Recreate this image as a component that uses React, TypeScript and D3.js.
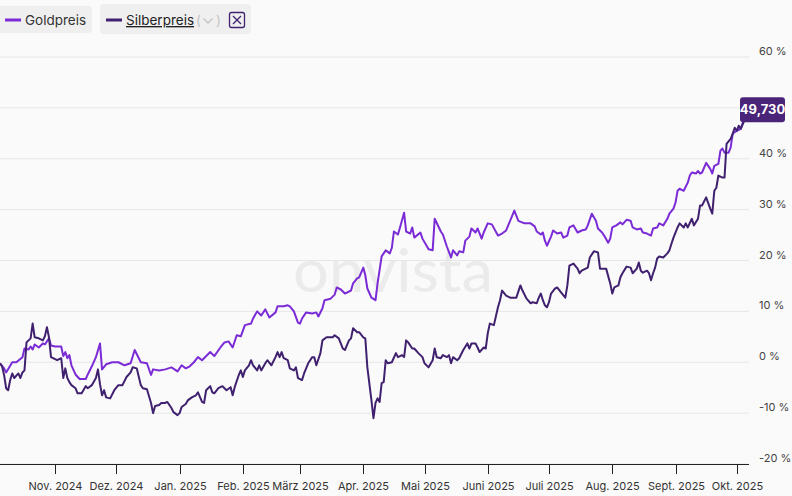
import React from "react";
import * as d3 from "d3";

// ---- data (percent change) ----
const goldSeries: [string, number][] = [
  ["2024-10-05", -0.2], ["2024-10-07", -1.2], ["2024-10-08", -2.0], ["2024-10-11", 0.0], ["2024-10-13", 0.0],
  ["2024-10-16", 1.0], ["2024-10-17", 2.7], ["2024-10-19", 2.5], ["2024-10-20", 3.1], ["2024-10-21", 2.5],
  ["2024-10-22", 3.5], ["2024-10-24", 2.9], ["2024-10-26", 3.7], ["2024-10-27", 3.5], ["2024-10-29", 4.7],
  ["2024-10-30", 3.3], ["2024-11-01", 3.1], ["2024-11-04", 3.1], ["2024-11-05", 1.2], ["2024-11-06", 2.0],
  ["2024-11-07", 0.8], ["2024-11-08", 1.4], ["2024-11-09", -0.6], ["2024-11-11", -2.4], ["2024-11-13", -3.3],
  ["2024-11-16", -3.3], ["2024-11-17", -2.4], ["2024-11-19", -0.8], ["2024-11-21", 1.0], ["2024-11-23", 3.7],
  ["2024-11-24", -1.4], ["2024-11-26", -0.4], ["2024-11-29", 0.0], ["2024-12-02", 0.0], ["2024-12-05", -0.6],
  ["2024-12-08", -0.2], ["2024-12-10", 2.4], ["2024-12-13", 0.0], ["2024-12-16", -0.2], ["2024-12-18", -2.5],
  ["2024-12-19", -1.4], ["2024-12-22", -1.6], ["2024-12-25", -1.4], ["2024-12-28", -1.0], ["2024-12-31", -1.8],
  ["2025-01-02", -0.6], ["2025-01-04", -1.2], ["2025-01-06", -0.8], ["2025-01-08", 0.0], ["2025-01-10", 1.0],
  ["2025-01-12", 0.4], ["2025-01-16", 2.0], ["2025-01-18", 1.2], ["2025-01-21", 2.9], ["2025-01-23", 3.9],
  ["2025-01-25", 4.1], ["2025-01-27", 2.9], ["2025-01-29", 5.3], ["2025-01-31", 5.1], ["2025-02-02", 7.3],
  ["2025-02-05", 7.6], ["2025-02-06", 8.6], ["2025-02-08", 10.0], ["2025-02-10", 9.2], ["2025-02-12", 10.4],
  ["2025-02-14", 8.8], ["2025-02-17", 9.8], ["2025-02-18", 11.0], ["2025-02-21", 11.0], ["2025-02-23", 11.2],
  ["2025-02-24", 11.0], ["2025-02-26", 10.0], ["2025-02-28", 7.8], ["2025-03-01", 7.6], ["2025-03-02", 8.6],
  ["2025-03-04", 9.8], ["2025-03-07", 9.6], ["2025-03-09", 9.8], ["2025-03-10", 9.0], ["2025-03-12", 10.6],
  ["2025-03-13", 12.2], ["2025-03-16", 12.5], ["2025-03-18", 13.3], ["2025-03-19", 14.7], ["2025-03-21", 14.3],
  ["2025-03-23", 13.5], ["2025-03-26", 14.1], ["2025-03-27", 15.5], ["2025-03-29", 16.5], ["2025-03-30", 16.7],
  ["2025-04-01", 18.6], ["2025-04-02", 17.1], ["2025-04-03", 14.5], ["2025-04-05", 12.7], ["2025-04-07", 12.2],
  ["2025-04-08", 15.5], ["2025-04-10", 20.8], ["2025-04-12", 22.0], ["2025-04-14", 21.4], ["2025-04-15", 22.5],
  ["2025-04-16", 25.7], ["2025-04-18", 25.1], ["2025-04-19", 26.5], ["2025-04-21", 29.4], ["2025-04-22", 25.7],
  ["2025-04-24", 25.3], ["2025-04-25", 26.5], ["2025-04-26", 24.5], ["2025-04-29", 25.5], ["2025-04-30", 24.3],
  ["2025-05-03", 22.2], ["2025-05-05", 22.0], ["2025-05-06", 28.2], ["2025-05-09", 25.7], ["2025-05-10", 25.1],
  ["2025-05-12", 22.7], ["2025-05-14", 20.6], ["2025-05-15", 22.0], ["2025-05-17", 21.0], ["2025-05-18", 21.8],
  ["2025-05-20", 21.6], ["2025-05-21", 23.9], ["2025-05-23", 24.7], ["2025-05-24", 26.3], ["2025-05-26", 25.5],
  ["2025-05-27", 26.3], ["2025-05-29", 24.3], ["2025-05-30", 25.5], ["2025-06-01", 27.3], ["2025-06-03", 27.1],
  ["2025-06-06", 24.9], ["2025-06-08", 25.3], ["2025-06-10", 25.9], ["2025-06-13", 28.8], ["2025-06-14", 29.8],
  ["2025-06-16", 27.8], ["2025-06-19", 27.3], ["2025-06-22", 27.3], ["2025-06-24", 26.7], ["2025-06-25", 25.7],
  ["2025-06-27", 25.1], ["2025-06-28", 25.5], ["2025-06-29", 23.9], ["2025-06-30", 22.9], ["2025-07-02", 24.7],
  ["2025-07-03", 25.9], ["2025-07-05", 25.3], ["2025-07-07", 25.5], ["2025-07-08", 24.5], ["2025-07-10", 24.9],
  ["2025-07-11", 26.5], ["2025-07-13", 26.9], ["2025-07-15", 25.5], ["2025-07-17", 25.9], ["2025-07-19", 26.1],
  ["2025-07-20", 26.9], ["2025-07-22", 29.2], ["2025-07-24", 27.8], ["2025-07-25", 26.3], ["2025-07-27", 25.5],
  ["2025-07-28", 24.9], ["2025-07-30", 23.5], ["2025-07-31", 24.3], ["2025-08-01", 26.5], ["2025-08-03", 26.9],
  ["2025-08-05", 27.5], ["2025-08-06", 27.1], ["2025-08-08", 28.0], ["2025-08-10", 27.8], ["2025-08-11", 26.5],
  ["2025-08-13", 26.1], ["2025-08-15", 26.3], ["2025-08-16", 25.5], ["2025-08-18", 25.3], ["2025-08-20", 24.9],
  ["2025-08-21", 26.3], ["2025-08-23", 26.5], ["2025-08-24", 27.3], ["2025-08-26", 26.9], ["2025-08-28", 28.2],
  ["2025-08-29", 29.2], ["2025-08-31", 30.2], ["2025-09-01", 31.4], ["2025-09-02", 33.7], ["2025-09-03", 34.1],
  ["2025-09-05", 33.7], ["2025-09-07", 35.3], ["2025-09-08", 36.7], ["2025-09-09", 37.3], ["2025-09-11", 37.1],
  ["2025-09-12", 37.6], ["2025-09-13", 37.1], ["2025-09-14", 37.3], ["2025-09-16", 39.2], ["2025-09-18", 38.0],
  ["2025-09-19", 37.1], ["2025-09-20", 38.6], ["2025-09-22", 39.0], ["2025-09-23", 41.6], ["2025-09-24", 42.0],
  ["2025-09-25", 41.2], ["2025-09-27", 41.2], ["2025-09-28", 42.2], ["2025-09-29", 44.9], ["2025-10-01", 45.5],
  ["2025-10-03", 45.9], ["2025-10-04", 47.1], ["2025-10-06", 48.2],
];

const silverSeries: [string, number][] = [
  ["2024-10-05", -0.2], ["2024-10-06", -0.8], ["2024-10-07", -2.5], ["2024-10-08", -5.1], ["2024-10-09", -5.5],
  ["2024-10-10", -3.5], ["2024-10-11", -2.2], ["2024-10-12", -3.1], ["2024-10-14", -2.2], ["2024-10-15", -3.1],
  ["2024-10-16", -2.0], ["2024-10-17", -1.6], ["2024-10-18", 3.9], ["2024-10-20", 4.7], ["2024-10-21", 7.6],
  ["2024-10-22", 4.9], ["2024-10-24", 4.7], ["2024-10-26", 4.3], ["2024-10-27", 5.1], ["2024-10-28", 6.9],
  ["2024-10-29", 4.9], ["2024-10-30", 1.0], ["2024-11-01", 0.6], ["2024-11-02", 0.4], ["2024-11-04", 0.8],
  ["2024-11-05", -3.1], ["2024-11-06", -1.2], ["2024-11-07", -3.1], ["2024-11-08", -3.9], ["2024-11-09", -4.5],
  ["2024-11-11", -5.1], ["2024-11-12", -6.1], ["2024-11-14", -6.1], ["2024-11-16", -4.7], ["2024-11-17", -5.1],
  ["2024-11-19", -4.5], ["2024-11-21", -3.1], ["2024-11-22", -1.4], ["2024-11-23", -4.3], ["2024-11-24", -6.5],
  ["2024-11-25", -5.5], ["2024-11-26", -6.9], ["2024-11-28", -7.1], ["2024-11-30", -5.5], ["2024-12-02", -4.5],
  ["2024-12-04", -4.5], ["2024-12-06", -2.9], ["2024-12-08", -2.0], ["2024-12-09", -1.0], ["2024-12-11", -1.2],
  ["2024-12-13", -4.5], ["2024-12-14", -5.1], ["2024-12-16", -5.3], ["2024-12-18", -8.0], ["2024-12-19", -10.0],
  ["2024-12-20", -8.6], ["2024-12-22", -8.4], ["2024-12-23", -8.0], ["2024-12-25", -8.0], ["2024-12-26", -7.8],
  ["2024-12-28", -9.0], ["2024-12-29", -9.8], ["2024-12-31", -10.4], ["2025-01-01", -10.0], ["2025-01-02", -8.8],
  ["2025-01-04", -8.2], ["2025-01-05", -7.5], ["2025-01-07", -6.9], ["2025-01-09", -6.5], ["2025-01-10", -5.9],
  ["2025-01-12", -7.8], ["2025-01-13", -8.0], ["2025-01-14", -5.5], ["2025-01-16", -4.7], ["2025-01-17", -5.9],
  ["2025-01-18", -6.1], ["2025-01-20", -5.1], ["2025-01-22", -4.7], ["2025-01-23", -5.1], ["2025-01-24", -5.5],
  ["2025-01-26", -4.9], ["2025-01-27", -6.5], ["2025-01-28", -4.9], ["2025-01-30", -2.5], ["2025-01-31", -1.6],
  ["2025-02-01", -2.9], ["2025-02-02", -1.6], ["2025-02-04", -0.6], ["2025-02-05", 0.4], ["2025-02-06", -0.6],
  ["2025-02-08", -1.6], ["2025-02-09", -0.6], ["2025-02-10", -1.6], ["2025-02-12", -0.2], ["2025-02-13", 0.4],
  ["2025-02-15", -0.6], ["2025-02-17", 1.0], ["2025-02-18", 2.0], ["2025-02-19", 1.0], ["2025-02-20", 2.0],
  ["2025-02-21", 0.8], ["2025-02-23", 0.4], ["2025-02-24", -1.2], ["2025-02-26", -1.6], ["2025-02-27", -1.0],
  ["2025-02-28", -3.1], ["2025-03-02", -3.5], ["2025-03-03", -2.2], ["2025-03-05", -0.2], ["2025-03-07", 1.0],
  ["2025-03-08", 1.0], ["2025-03-09", -0.6], ["2025-03-11", 1.8], ["2025-03-12", 4.3], ["2025-03-14", 4.9],
  ["2025-03-17", 4.9], ["2025-03-18", 5.3], ["2025-03-20", 4.7], ["2025-03-22", 2.7], ["2025-03-23", 2.4],
  ["2025-03-25", 4.3], ["2025-03-26", 4.7], ["2025-03-27", 6.7], ["2025-03-29", 5.9], ["2025-03-30", 5.9],
  ["2025-04-01", 4.9], ["2025-04-02", 4.7], ["2025-04-03", -1.0], ["2025-04-05", -7.5], ["2025-04-06", -11.0],
  ["2025-04-07", -8.0], ["2025-04-08", -7.1], ["2025-04-09", -7.8], ["2025-04-10", -4.1], ["2025-04-11", -3.9],
  ["2025-04-12", 0.4], ["2025-04-13", -0.2], ["2025-04-15", 0.0], ["2025-04-17", 1.8], ["2025-04-18", 1.0],
  ["2025-04-20", 1.4], ["2025-04-21", 1.0], ["2025-04-22", 4.3], ["2025-04-23", 3.9], ["2025-04-25", 2.7],
  ["2025-04-26", 2.7], ["2025-04-28", 1.8], ["2025-04-30", 1.0], ["2025-05-01", -0.2], ["2025-05-03", -1.0],
  ["2025-05-05", 0.4], ["2025-05-06", 2.7], ["2025-05-07", 1.0], ["2025-05-09", 0.8], ["2025-05-10", 1.4],
  ["2025-05-12", 1.0], ["2025-05-13", 1.4], ["2025-05-14", -0.2], ["2025-05-15", 1.0], ["2025-05-17", 0.4],
  ["2025-05-18", 0.8], ["2025-05-20", 2.4], ["2025-05-22", 3.7], ["2025-05-23", 2.7], ["2025-05-24", 3.7],
  ["2025-05-26", 3.7], ["2025-05-27", 2.9], ["2025-05-28", 2.0], ["2025-05-30", 2.9], ["2025-05-31", 2.7],
  ["2025-06-01", 5.7], ["2025-06-02", 7.6], ["2025-06-04", 7.3], ["2025-06-06", 10.8], ["2025-06-07", 12.2],
  ["2025-06-08", 14.1], ["2025-06-10", 13.1], ["2025-06-12", 12.7], ["2025-06-14", 12.7], ["2025-06-15", 12.7],
  ["2025-06-17", 15.1], ["2025-06-18", 14.1], ["2025-06-20", 12.5], ["2025-06-22", 11.6], ["2025-06-23", 11.8],
  ["2025-06-25", 11.6], ["2025-06-26", 12.7], ["2025-06-27", 13.5], ["2025-06-28", 12.2], ["2025-06-29", 11.2],
  ["2025-06-30", 10.8], ["2025-07-01", 11.8], ["2025-07-02", 13.5], ["2025-07-04", 14.5], ["2025-07-05", 14.7],
  ["2025-07-07", 13.7], ["2025-07-09", 12.7], ["2025-07-10", 15.1], ["2025-07-11", 19.0], ["2025-07-13", 19.4],
  ["2025-07-15", 18.4], ["2025-07-16", 17.5], ["2025-07-17", 18.0], ["2025-07-19", 18.4], ["2025-07-20", 18.6],
  ["2025-07-21", 20.6], ["2025-07-23", 21.8], ["2025-07-25", 21.6], ["2025-07-26", 18.4], ["2025-07-27", 18.4],
  ["2025-07-29", 18.4], ["2025-07-31", 15.5], ["2025-08-01", 13.5], ["2025-08-02", 14.7], ["2025-08-04", 15.1],
  ["2025-08-05", 16.7], ["2025-08-06", 17.5], ["2025-08-08", 18.8], ["2025-08-10", 18.6], ["2025-08-11", 17.5],
  ["2025-08-13", 18.4], ["2025-08-14", 19.6], ["2025-08-15", 18.0], ["2025-08-16", 17.6], ["2025-08-18", 18.0],
  ["2025-08-19", 17.5], ["2025-08-20", 16.1], ["2025-08-21", 17.5], ["2025-08-22", 18.6], ["2025-08-23", 20.4],
  ["2025-08-24", 20.8], ["2025-08-26", 20.6], ["2025-08-28", 21.4], ["2025-08-29", 22.0], ["2025-08-30", 23.3],
  ["2025-08-31", 24.5], ["2025-09-02", 26.5], ["2025-09-03", 27.3], ["2025-09-05", 26.5], ["2025-09-06", 27.3],
  ["2025-09-07", 26.5], ["2025-09-09", 28.2], ["2025-09-10", 26.9], ["2025-09-12", 28.2], ["2025-09-13", 30.8],
  ["2025-09-14", 30.8], ["2025-09-16", 32.4], ["2025-09-18", 30.2], ["2025-09-19", 29.2], ["2025-09-20", 33.7],
  ["2025-09-21", 34.3], ["2025-09-22", 36.7], ["2025-09-24", 36.3], ["2025-09-25", 36.3], ["2025-09-26", 42.9],
  ["2025-09-28", 43.9], ["2025-09-29", 44.9], ["2025-09-30", 46.1], ["2025-10-01", 45.5], ["2025-10-02", 46.5],
  ["2025-10-03", 45.9], ["2025-10-05", 47.8], ["2025-10-06", 49.73],
];

const yTicks = [-20, -10, 0, 10, 20, 30, 40, 50, 60];
// the 50 % label is hidden behind the last-value tag in the reference
const yLabelTicks = [-20, -10, 0, 10, 20, 30, 40, 60];
const monthTicks = [
  "2024-11-01", "2024-12-01", "2025-01-01", "2025-02-01", "2025-03-01", "2025-04-01",
  "2025-05-01", "2025-06-01", "2025-07-01", "2025-08-01", "2025-09-01", "2025-10-01",
];
const monthLabels = [
  "Nov. 2024", "Dez. 2024", "Jan. 2025", "Feb. 2025", "März 2025", "Apr. 2025",
  "Mai 2025", "Juni 2025", "Juli 2025", "Aug. 2025", "Sept. 2025", "Okt. 2025",
];
const seriesNames = ["Goldpreis", "Silberpreis"];
const lastLabel = "49,730";

const W = 792;
const H = 496;
const GOLD = "#7b2bd6";
const SILVER = "#40216f";
const FONT = "Inter, 'Noto Sans', sans-serif";

export default function App() {
  const parse = d3.utcParse("%Y-%m-%d");
  const x = d3
    .scaleUtc()
    .domain([parse("2024-10-05") as Date, parse("2025-10-07") as Date])
    .range([0, 749]);
  const y = d3.scaleLinear().domain([-20, 60]).range([464, 57]);

  const line = d3
    .line<[string, number]>()
    .x((d) => x(parse(d[0]) as Date))
    .y((d) => y(d[1]))
    .curve(d3.curveLinear);

  const goldPath = line(goldSeries) || "";
  const silverPath = line(silverSeries) || "";
  const last = silverSeries[silverSeries.length - 1];
  const lastY = y(last[1]);

  return (
    <svg
      width={W}
      height={H}
      style={{ position: "absolute", left: 0, top: 0, display: "block" }}
      fontFamily={FONT}
    >
      <rect x={0} y={0} width={W} height={H} fill="#fafafa" />

      {/* watermark */}
      <text
        x={393}
        y={292}
        textAnchor="middle"
        fontSize={60}
        fontFamily="Lato, 'Noto Sans', sans-serif"
        fill="#ebebeb"
        textLength={200}
        lengthAdjust="spacingAndGlyphs"
      >
        onvista
      </text>

      {/* grid */}
      {yTicks.map((t) => (
        <line key={"g" + t} x1={0} x2={749} y1={y(t)} y2={y(t)} stroke="#e6e6e6" strokeWidth={1} />
      ))}
      {yLabelTicks.map((t) => (
        <text key={"l" + t} x={759} y={y(t) - 2} fontSize={11} fill="#444">
          {t} %
        </text>
      ))}

      {/* x axis */}
      <line x1={0} x2={749} y1={464.5} y2={464.5} stroke="#222" strokeWidth={1} />
      {monthTicks.map((m, i) => {
        const xx = Math.round(x(parse(m) as Date)) + 0.5;
        return (
          <g key={m}>
            <line x1={xx} x2={xx} y1={465} y2={474} stroke="#222" strokeWidth={1} />
            <text x={xx} y={490} textAnchor="middle" fontSize={11} fill="#333">
              {monthLabels[i]}
            </text>
          </g>
        );
      })}

      {/* lines */}
      <path d={goldPath} fill="none" stroke={GOLD} strokeWidth={2} strokeLinejoin="round" />
      <path d={silverPath} fill="none" stroke={SILVER} strokeWidth={2} strokeLinejoin="round" />

      {/* end label */}
      <rect x={740} y={lastY - 12} width={45} height={25} rx={3} fill="#4a2479" />
      <text x={762.5} y={lastY + 5} textAnchor="middle" fontSize={13} fontWeight={700} fill="#fff">
        {lastLabel}
      </text>

      {/* legend */}
      <rect x={-4} y={6} width={96} height={27} rx={4} fill="#efefef" />
      <line x1={5} x2={21} y1={20} y2={20} stroke={GOLD} strokeWidth={3} />
      <text x={25} y={25} fontSize={13.5} fill="#333">
        {seriesNames[0]}
      </text>

      <rect x={100} y={4} width={151} height={30} rx={4} fill="#efefef" />
      <line x1={106} x2={122} y1={20} y2={20} stroke={SILVER} strokeWidth={3} />
      <text x={126} y={25} fontSize={13.5} fill="#222" textDecoration="underline">
        {seriesNames[1]}
      </text>
      <text x={196} y={25} fontSize={13.5} fill="#c4c4c4">
        (
      </text>
      <path d="M203.5,18.5 L208,23 L212.5,18.5" fill="none" stroke="#c4c4c4" strokeWidth={1.3} />
      <text x={216} y={25} fontSize={13.5} fill="#c4c4c4">
        )
      </text>
      <rect x={229.5} y={12.5} width={15} height={15} rx={2} fill="none" stroke={SILVER} strokeWidth={1.3} />
      <path d="M233,16 L241,24 M241,16 L233,24" stroke={SILVER} strokeWidth={1.3} />
    </svg>
  );
}
